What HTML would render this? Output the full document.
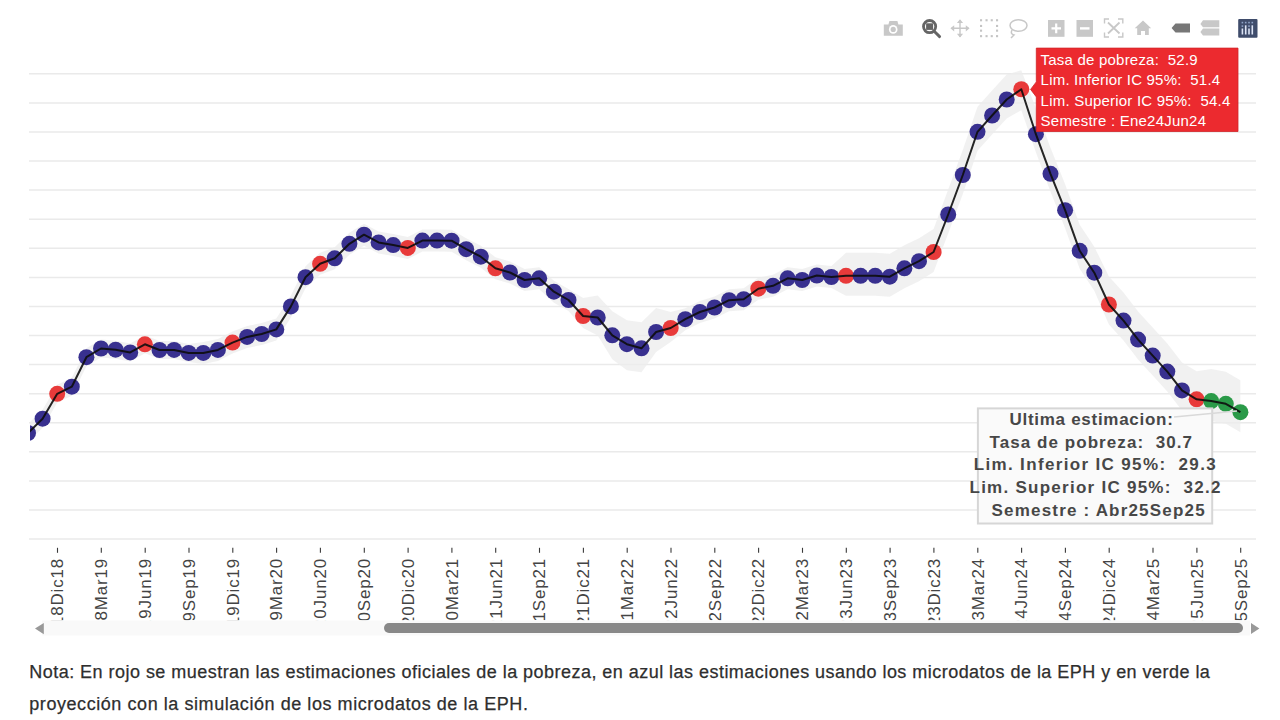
<!DOCTYPE html>
<html><head><meta charset="utf-8">
<style>
html,body{margin:0;padding:0;background:#fff;width:1280px;height:720px;overflow:hidden}
svg{position:absolute;left:0;top:0}
.note{position:absolute;left:29.3px;width:1250px;white-space:nowrap;font-family:"Liberation Sans",sans-serif;font-size:18px;line-height:32px;color:#2e2e2e;margin:0;-webkit-text-stroke:0.25px #2e2e2e}
</style></head><body>
<svg width="1280" height="720" viewBox="0 0 1280 720" font-family="Liberation Sans, sans-serif">
<defs>
<clipPath id="plot"><rect x="30" y="40" width="1226" height="501"/></clipPath>
<clipPath id="xlab"><rect x="0" y="540" width="1280" height="80.3"/></clipPath>
</defs>
<g stroke="#eaeaea" stroke-width="1.5">
<line x1="29" x2="1256" y1="73.8" y2="73.8"/>
<line x1="29" x2="1256" y1="102.9" y2="102.9"/>
<line x1="29" x2="1256" y1="132.0" y2="132.0"/>
<line x1="29" x2="1256" y1="161.0" y2="161.0"/>
<line x1="29" x2="1256" y1="190.1" y2="190.1"/>
<line x1="29" x2="1256" y1="219.2" y2="219.2"/>
<line x1="29" x2="1256" y1="248.3" y2="248.3"/>
<line x1="29" x2="1256" y1="277.4" y2="277.4"/>
<line x1="29" x2="1256" y1="306.4" y2="306.4"/>
<line x1="29" x2="1256" y1="335.5" y2="335.5"/>
<line x1="29" x2="1256" y1="364.6" y2="364.6"/>
<line x1="29" x2="1256" y1="393.7" y2="393.7"/>
<line x1="29" x2="1256" y1="422.8" y2="422.8"/>
<line x1="29" x2="1256" y1="451.8" y2="451.8"/>
<line x1="29" x2="1256" y1="480.9" y2="480.9"/>
<line x1="29" x2="1256" y1="510.0" y2="510.0"/>
<line x1="29" x2="1256" y1="539.1" y2="539.1"/>
</g>
<g clip-path="url(#plot)">
<path d="M28.0,424.0 L42.6,409.7 L57.2,384.8 L71.8,377.7 L86.4,348.2 L101.0,339.5 L115.6,340.7 L130.2,343.4 L144.9,335.3 L159.5,341.0 L174.1,340.9 L188.7,343.9 L203.3,341.9 L217.9,338.9 L232.5,331.6 L247.1,325.9 L261.7,323.0 L276.3,318.4 L290.9,295.4 L305.5,266.2 L320.1,252.8 L334.7,247.3 L349.4,232.8 L364.0,223.7 L378.6,231.4 L393.2,234.1 L407.8,236.9 L422.4,229.6 L437.0,229.6 L451.6,229.7 L466.2,238.2 L480.8,245.7 L495.4,257.3 L510.0,261.5 L524.6,269.0 L539.2,267.3 L553.9,280.7 L568.5,289.0 L583.1,298.0 L597.7,295.5 L612.3,311.3 L626.9,320.2 L641.5,322.3 L656.1,308.0 L670.7,312.0 L685.3,308.2 L699.9,301.0 L714.5,296.5 L729.1,289.2 L743.7,288.2 L758.3,277.7 L773.0,274.8 L787.6,267.3 L802.2,269.0 L816.8,264.5 L831.4,266.0 L846.0,252.8 L860.6,252.8 L875.2,252.8 L889.8,253.7 L904.4,245.3 L919.0,238.2 L933.6,229.0 L948.2,189.5 L962.8,150.0 L977.5,106.8 L992.1,90.5 L1006.7,74.5 L1021.3,70.2 L1035.9,108.2 L1050.5,147.8 L1065.1,184.2 L1079.7,224.8 L1094.3,246.7 L1108.9,276.5 L1123.5,292.6 L1138.1,311.6 L1152.7,327.6 L1167.3,343.6 L1182.0,362.4 L1196.6,371.3 L1211.2,369.1 L1225.8,371.8 L1240.4,380.2 L1240.4,432.2 L1225.8,423.8 L1211.2,421.1 L1196.6,419.3 L1182.0,410.4 L1167.3,391.6 L1152.7,375.6 L1138.1,359.6 L1123.5,340.6 L1108.9,324.5 L1094.3,290.7 L1079.7,268.8 L1065.1,228.2 L1050.5,191.8 L1035.9,152.2 L1021.3,110.2 L1006.7,118.5 L992.1,134.5 L977.5,150.8 L962.8,194.0 L948.2,233.5 L933.6,272.0 L919.0,281.2 L904.4,288.3 L889.8,296.7 L875.2,295.8 L860.6,295.8 L846.0,295.8 L831.4,288.0 L816.8,286.5 L802.2,291.0 L787.6,289.3 L773.0,296.8 L758.3,299.7 L743.7,310.2 L729.1,311.2 L714.5,318.5 L699.9,323.0 L685.3,330.2 L670.7,342.0 L656.1,352.0 L641.5,372.3 L626.9,370.2 L612.3,359.3 L597.7,335.5 L583.1,328.0 L568.5,311.0 L553.9,302.7 L539.2,289.3 L524.6,291.0 L510.0,283.5 L495.4,279.3 L480.8,267.7 L466.2,260.2 L451.6,251.7 L437.0,251.6 L422.4,251.6 L407.8,258.9 L393.2,256.1 L378.6,253.4 L364.0,245.7 L349.4,254.8 L334.7,269.3 L320.1,274.8 L305.5,288.2 L290.9,317.4 L276.3,340.4 L261.7,345.0 L247.1,347.9 L232.5,353.6 L217.9,360.9 L203.3,363.9 L188.7,361.9 L174.1,358.9 L159.5,359.0 L144.9,353.3 L130.2,361.4 L115.6,358.7 L101.0,357.5 L86.4,366.2 L71.8,395.7 L57.2,402.8 L42.6,427.7 L28.0,442.0 Z" fill="#ececec" fill-opacity="0.75" stroke="none"/>
<circle cx="28.0" cy="433.0" r="8.0" fill="#38308f"/>
<circle cx="42.6" cy="418.7" r="8.0" fill="#38308f"/>
<circle cx="57.2" cy="393.8" r="8.0" fill="#e83a3a"/>
<circle cx="71.8" cy="386.7" r="8.0" fill="#38308f"/>
<circle cx="86.4" cy="357.2" r="8.0" fill="#38308f"/>
<circle cx="101.0" cy="348.5" r="8.0" fill="#38308f"/>
<circle cx="115.6" cy="349.7" r="8.0" fill="#38308f"/>
<circle cx="130.2" cy="352.4" r="8.0" fill="#38308f"/>
<circle cx="144.9" cy="344.3" r="8.0" fill="#e83a3a"/>
<circle cx="159.5" cy="350.0" r="8.0" fill="#38308f"/>
<circle cx="174.1" cy="349.9" r="8.0" fill="#38308f"/>
<circle cx="188.7" cy="352.9" r="8.0" fill="#38308f"/>
<circle cx="203.3" cy="352.9" r="8.0" fill="#38308f"/>
<circle cx="217.9" cy="349.9" r="8.0" fill="#38308f"/>
<circle cx="232.5" cy="342.6" r="8.0" fill="#e83a3a"/>
<circle cx="247.1" cy="336.9" r="8.0" fill="#38308f"/>
<circle cx="261.7" cy="334.0" r="8.0" fill="#38308f"/>
<circle cx="276.3" cy="329.4" r="8.0" fill="#38308f"/>
<circle cx="290.9" cy="306.4" r="8.0" fill="#38308f"/>
<circle cx="305.5" cy="277.2" r="8.0" fill="#38308f"/>
<circle cx="320.1" cy="263.8" r="8.0" fill="#e83a3a"/>
<circle cx="334.7" cy="258.3" r="8.0" fill="#38308f"/>
<circle cx="349.4" cy="243.8" r="8.0" fill="#38308f"/>
<circle cx="364.0" cy="234.7" r="8.0" fill="#38308f"/>
<circle cx="378.6" cy="242.4" r="8.0" fill="#38308f"/>
<circle cx="393.2" cy="245.1" r="8.0" fill="#38308f"/>
<circle cx="407.8" cy="247.9" r="8.0" fill="#e83a3a"/>
<circle cx="422.4" cy="240.6" r="8.0" fill="#38308f"/>
<circle cx="437.0" cy="240.6" r="8.0" fill="#38308f"/>
<circle cx="451.6" cy="240.7" r="8.0" fill="#38308f"/>
<circle cx="466.2" cy="249.2" r="8.0" fill="#38308f"/>
<circle cx="480.8" cy="256.7" r="8.0" fill="#38308f"/>
<circle cx="495.4" cy="268.3" r="8.0" fill="#e83a3a"/>
<circle cx="510.0" cy="272.5" r="8.0" fill="#38308f"/>
<circle cx="524.6" cy="280.0" r="8.0" fill="#38308f"/>
<circle cx="539.2" cy="278.3" r="8.0" fill="#38308f"/>
<circle cx="553.9" cy="291.7" r="8.0" fill="#38308f"/>
<circle cx="568.5" cy="300.0" r="8.0" fill="#38308f"/>
<circle cx="583.1" cy="316.0" r="8.0" fill="#e83a3a"/>
<circle cx="597.7" cy="317.5" r="8.0" fill="#38308f"/>
<circle cx="612.3" cy="335.3" r="8.0" fill="#38308f"/>
<circle cx="626.9" cy="344.2" r="8.0" fill="#38308f"/>
<circle cx="641.5" cy="348.3" r="8.0" fill="#38308f"/>
<circle cx="656.1" cy="332.0" r="8.0" fill="#38308f"/>
<circle cx="670.7" cy="328.0" r="8.0" fill="#e83a3a"/>
<circle cx="685.3" cy="319.2" r="8.0" fill="#38308f"/>
<circle cx="699.9" cy="312.0" r="8.0" fill="#38308f"/>
<circle cx="714.5" cy="307.5" r="8.0" fill="#38308f"/>
<circle cx="729.1" cy="300.2" r="8.0" fill="#38308f"/>
<circle cx="743.7" cy="299.2" r="8.0" fill="#38308f"/>
<circle cx="758.3" cy="288.7" r="8.0" fill="#e83a3a"/>
<circle cx="773.0" cy="285.8" r="8.0" fill="#38308f"/>
<circle cx="787.6" cy="278.3" r="8.0" fill="#38308f"/>
<circle cx="802.2" cy="280.0" r="8.0" fill="#38308f"/>
<circle cx="816.8" cy="275.5" r="8.0" fill="#38308f"/>
<circle cx="831.4" cy="277.0" r="8.0" fill="#38308f"/>
<circle cx="846.0" cy="275.8" r="8.0" fill="#e83a3a"/>
<circle cx="860.6" cy="275.8" r="8.0" fill="#38308f"/>
<circle cx="875.2" cy="275.8" r="8.0" fill="#38308f"/>
<circle cx="889.8" cy="276.7" r="8.0" fill="#38308f"/>
<circle cx="904.4" cy="268.3" r="8.0" fill="#38308f"/>
<circle cx="919.0" cy="261.2" r="8.0" fill="#38308f"/>
<circle cx="933.6" cy="252.0" r="8.0" fill="#e83a3a"/>
<circle cx="948.2" cy="214.5" r="8.0" fill="#38308f"/>
<circle cx="962.8" cy="175.0" r="8.0" fill="#38308f"/>
<circle cx="977.5" cy="131.8" r="8.0" fill="#38308f"/>
<circle cx="992.1" cy="115.5" r="8.0" fill="#38308f"/>
<circle cx="1006.7" cy="99.5" r="8.0" fill="#38308f"/>
<circle cx="1021.3" cy="89.2" r="8.0" fill="#e83a3a"/>
<circle cx="1035.9" cy="134.2" r="8.0" fill="#38308f"/>
<circle cx="1050.5" cy="173.8" r="8.0" fill="#38308f"/>
<circle cx="1065.1" cy="210.2" r="8.0" fill="#38308f"/>
<circle cx="1079.7" cy="250.8" r="8.0" fill="#38308f"/>
<circle cx="1094.3" cy="272.7" r="8.0" fill="#38308f"/>
<circle cx="1108.9" cy="304.5" r="8.0" fill="#e83a3a"/>
<circle cx="1123.5" cy="320.6" r="8.0" fill="#38308f"/>
<circle cx="1138.1" cy="339.6" r="8.0" fill="#38308f"/>
<circle cx="1152.7" cy="355.6" r="8.0" fill="#38308f"/>
<circle cx="1167.3" cy="371.6" r="8.0" fill="#38308f"/>
<circle cx="1182.0" cy="390.4" r="8.0" fill="#38308f"/>
<circle cx="1196.6" cy="399.3" r="8.0" fill="#e83a3a"/>
<circle cx="1211.2" cy="401.1" r="8.0" fill="#2a9a48"/>
<circle cx="1225.8" cy="403.8" r="8.0" fill="#2a9a48"/>
<circle cx="1240.4" cy="412.2" r="8.0" fill="#2a9a48"/>
<path d="M28.0,433.0 L42.6,418.7 L57.2,393.8 L71.8,386.7 L86.4,357.2 L101.0,348.5 L115.6,349.7 L130.2,352.4 L144.9,344.3 L159.5,350.0 L174.1,349.9 L188.7,352.9 L203.3,352.9 L217.9,349.9 L232.5,342.6 L247.1,336.9 L261.7,334.0 L276.3,329.4 L290.9,306.4 L305.5,277.2 L320.1,263.8 L334.7,258.3 L349.4,243.8 L364.0,234.7 L378.6,242.4 L393.2,245.1 L407.8,247.9 L422.4,240.6 L437.0,240.6 L451.6,240.7 L466.2,249.2 L480.8,256.7 L495.4,268.3 L510.0,272.5 L524.6,280.0 L539.2,278.3 L553.9,291.7 L568.5,300.0 L583.1,316.0 L597.7,317.5 L612.3,335.3 L626.9,344.2 L641.5,348.3 L656.1,332.0 L670.7,328.0 L685.3,319.2 L699.9,312.0 L714.5,307.5 L729.1,300.2 L743.7,299.2 L758.3,288.7 L773.0,285.8 L787.6,278.3 L802.2,280.0 L816.8,275.5 L831.4,277.0 L846.0,275.8 L860.6,275.8 L875.2,275.8 L889.8,276.7 L904.4,268.3 L919.0,261.2 L933.6,252.0 L948.2,214.5 L962.8,175.0 L977.5,131.8 L992.1,115.5 L1006.7,99.5 L1021.3,89.2 L1035.9,134.2 L1050.5,173.8 L1065.1,210.2 L1079.7,250.8 L1094.3,272.7 L1108.9,304.5 L1123.5,320.6 L1138.1,339.6 L1152.7,355.6 L1167.3,371.6 L1182.0,390.4 L1196.6,399.3 L1211.2,401.1 L1225.8,403.8 L1240.4,412.2" fill="none" stroke="#0d0d0d" stroke-opacity="0.9" stroke-width="2.0" stroke-linejoin="round"/>
</g>
<g stroke="#3a3a3a" stroke-width="1.1">
<line x1="57.5" x2="57.5" y1="547.8" y2="552.8"/>
<line x1="101.3" x2="101.3" y1="547.8" y2="552.8"/>
<line x1="145.2" x2="145.2" y1="547.8" y2="552.8"/>
<line x1="189.0" x2="189.0" y1="547.8" y2="552.8"/>
<line x1="232.8" x2="232.8" y1="547.8" y2="552.8"/>
<line x1="276.6" x2="276.6" y1="547.8" y2="552.8"/>
<line x1="320.4" x2="320.4" y1="547.8" y2="552.8"/>
<line x1="364.3" x2="364.3" y1="547.8" y2="552.8"/>
<line x1="408.1" x2="408.1" y1="547.8" y2="552.8"/>
<line x1="451.9" x2="451.9" y1="547.8" y2="552.8"/>
<line x1="495.7" x2="495.7" y1="547.8" y2="552.8"/>
<line x1="539.5" x2="539.5" y1="547.8" y2="552.8"/>
<line x1="583.4" x2="583.4" y1="547.8" y2="552.8"/>
<line x1="627.2" x2="627.2" y1="547.8" y2="552.8"/>
<line x1="671.0" x2="671.0" y1="547.8" y2="552.8"/>
<line x1="714.8" x2="714.8" y1="547.8" y2="552.8"/>
<line x1="758.6" x2="758.6" y1="547.8" y2="552.8"/>
<line x1="802.5" x2="802.5" y1="547.8" y2="552.8"/>
<line x1="846.3" x2="846.3" y1="547.8" y2="552.8"/>
<line x1="890.1" x2="890.1" y1="547.8" y2="552.8"/>
<line x1="933.9" x2="933.9" y1="547.8" y2="552.8"/>
<line x1="977.8" x2="977.8" y1="547.8" y2="552.8"/>
<line x1="1021.6" x2="1021.6" y1="547.8" y2="552.8"/>
<line x1="1065.4" x2="1065.4" y1="547.8" y2="552.8"/>
<line x1="1109.2" x2="1109.2" y1="547.8" y2="552.8"/>
<line x1="1153.0" x2="1153.0" y1="547.8" y2="552.8"/>
<line x1="1196.9" x2="1196.9" y1="547.8" y2="552.8"/>
<line x1="1240.7" x2="1240.7" y1="547.8" y2="552.8"/>
</g>
<g clip-path="url(#xlab)" font-size="16" fill="#444" text-anchor="end" letter-spacing="0.8">
<text transform="translate(63.3,558.0) rotate(-90) scale(1.06,1)">Jul18Dic18</text>
<text transform="translate(107.1,558.0) rotate(-90) scale(1.06,1)">Oct18Mar19</text>
<text transform="translate(151.0,558.0) rotate(-90) scale(1.06,1)">Ene19Jun19</text>
<text transform="translate(194.8,558.0) rotate(-90) scale(1.06,1)">Abr19Sep19</text>
<text transform="translate(238.6,558.0) rotate(-90) scale(1.06,1)">Jul19Dic19</text>
<text transform="translate(282.4,558.0) rotate(-90) scale(1.06,1)">Oct19Mar20</text>
<text transform="translate(326.2,558.0) rotate(-90) scale(1.06,1)">Ene20Jun20</text>
<text transform="translate(370.1,558.0) rotate(-90) scale(1.06,1)">Abr20Sep20</text>
<text transform="translate(413.9,558.0) rotate(-90) scale(1.06,1)">Jul20Dic20</text>
<text transform="translate(457.7,558.0) rotate(-90) scale(1.06,1)">Oct20Mar21</text>
<text transform="translate(501.5,558.0) rotate(-90) scale(1.06,1)">Ene21Jun21</text>
<text transform="translate(545.3,558.0) rotate(-90) scale(1.06,1)">Abr21Sep21</text>
<text transform="translate(589.2,558.0) rotate(-90) scale(1.06,1)">Jul21Dic21</text>
<text transform="translate(633.0,558.0) rotate(-90) scale(1.06,1)">Oct21Mar22</text>
<text transform="translate(676.8,558.0) rotate(-90) scale(1.06,1)">Ene22Jun22</text>
<text transform="translate(720.6,558.0) rotate(-90) scale(1.06,1)">Abr22Sep22</text>
<text transform="translate(764.4,558.0) rotate(-90) scale(1.06,1)">Jul22Dic22</text>
<text transform="translate(808.3,558.0) rotate(-90) scale(1.06,1)">Oct22Mar23</text>
<text transform="translate(852.1,558.0) rotate(-90) scale(1.06,1)">Ene23Jun23</text>
<text transform="translate(895.9,558.0) rotate(-90) scale(1.06,1)">Abr23Sep23</text>
<text transform="translate(939.7,558.0) rotate(-90) scale(1.06,1)">Jul23Dic23</text>
<text transform="translate(983.6,558.0) rotate(-90) scale(1.06,1)">Oct23Mar24</text>
<text transform="translate(1027.4,558.0) rotate(-90) scale(1.06,1)">Ene24Jun24</text>
<text transform="translate(1071.2,558.0) rotate(-90) scale(1.06,1)">Abr24Sep24</text>
<text transform="translate(1115.0,558.0) rotate(-90) scale(1.06,1)">Jul24Dic24</text>
<text transform="translate(1158.8,558.0) rotate(-90) scale(1.06,1)">Oct24Mar25</text>
<text transform="translate(1202.7,558.0) rotate(-90) scale(1.06,1)">Ene25Jun25</text>
<text transform="translate(1246.5,558.0) rotate(-90) scale(1.06,1)">Abr25Sep25</text>
</g>
<!-- rangeslider -->
<rect x="42" y="620.5" width="1208" height="15" fill="#f9f9f9"/>
<path d="M35,628.5 L43.8,623 L43.8,634.2 Z" fill="#999"/>
<path d="M1259.4,628.5 L1251,623 L1251,634 Z" fill="#999"/>
<rect x="384" y="623" width="859" height="10" rx="5" fill="#888"/>
<!-- tooltip -->
<path d="M1036.3,48.1 H1238 V131.5 H1036.3 V96.9 L1030.6,89.4 L1036.3,81.9 Z" fill="#ec2a2f" stroke="#d02428" stroke-width="0.8"/>
<g fill="#fff" font-size="15">
<text x="1040.6" y="64.7" textLength="157" lengthAdjust="spacing" xml:space="preserve">Tasa de pobreza:  52.9</text>
<text x="1040.6" y="84.8" textLength="179.5" lengthAdjust="spacing" xml:space="preserve">Lim. Inferior IC 95%:  51.4</text>
<text x="1040.6" y="105.6" textLength="189.7" lengthAdjust="spacing" xml:space="preserve">Lim. Superior IC 95%:  54.4</text>
<text x="1040.6" y="125.6" textLength="165.4" lengthAdjust="spacing" xml:space="preserve">Semestre : Ene24Jun24</text>
</g>
<!-- annotation -->
<rect x="977.9" y="408.4" width="234.3" height="115.1" fill="#fafafa" fill-opacity="0.97" stroke="#d6d6d6" stroke-width="2"/>
<path d="M1174,417 L1237,411" stroke="#d9d9d9" stroke-width="1.5" fill="none"/>

<g fill="#474747" font-size="17" font-weight="bold">
<text x="1009.5" y="425" textLength="163.3" lengthAdjust="spacing" xml:space="preserve">Ultima estimacion:</text>
<text x="989.5" y="447.5" textLength="202.5" lengthAdjust="spacing" xml:space="preserve">Tasa de pobreza:  30.7</text>
<text x="973.7" y="470" textLength="242" lengthAdjust="spacing" xml:space="preserve">Lim. Inferior IC 95%:  29.3</text>
<text x="969.5" y="492.8" textLength="251" lengthAdjust="spacing" xml:space="preserve">Lim. Superior IC 95%:  32.2</text>
<text x="991.6" y="516" textLength="213" lengthAdjust="spacing" xml:space="preserve">Semestre : Abr25Sep25</text>
</g>
<!-- modebar -->
<g id="modebar">
<!-- camera -->
<g fill="#c8c8c8">
<path d="M883.8,24.4 H888.4 L889.4,21 H897.4 L898.4,24.4 H902.8 V35.8 H883.8 Z"/>
<circle cx="893.2" cy="29.4" r="4.3" fill="#fff"/>
<circle cx="893.2" cy="29.4" r="2.6" fill="#c8c8c8"/>
</g>
<!-- zoom -->
<g>
<circle cx="929.6" cy="26.6" r="6.1" fill="none" stroke="#656565" stroke-width="2.8"/>
<rect x="926.1" y="23.3" width="7" height="6.6" fill="#656565"/>
<path d="M934.2,31.3 L939.6,36.6" stroke="#656565" stroke-width="2.9" stroke-linecap="round"/>
</g>
<!-- pan -->
<g fill="#c8c8c8">
<path d="M951.5,27.6 H968.5 V29 H951.5 Z M959.3,20 H960.7 V37 H959.3 Z"/>
<path d="M950.4,28.3 L954.2,25.2 V31.4 Z M969.6,28.3 L965.8,25.2 V31.4 Z M960,19.3 L956.9,23 H963.1 Z M960,37.5 L956.9,33.8 H963.1 Z"/>
</g>
<!-- box select -->
<g fill="#c4c4c4">
<rect x="980.0" y="19.2" width="2.1" height="2.1"/><rect x="980.0" y="24.9" width="2.1" height="2.1"/><rect x="980.0" y="29.6" width="2.1" height="2.1"/><rect x="980.0" y="35.1" width="2.1" height="2.1"/><rect x="985.5" y="19.2" width="2.1" height="2.1"/><rect x="985.5" y="35.1" width="2.1" height="2.1"/><rect x="990.7" y="19.2" width="2.1" height="2.1"/><rect x="990.7" y="35.1" width="2.1" height="2.1"/><rect x="996.0" y="19.2" width="2.1" height="2.1"/><rect x="996.0" y="24.9" width="2.1" height="2.1"/><rect x="996.0" y="29.6" width="2.1" height="2.1"/><rect x="996.0" y="35.1" width="2.1" height="2.1"/>
</g>
<!-- lasso -->
<g fill="none" stroke="#c8c8c8" stroke-width="1.5">
<ellipse cx="1018.5" cy="25.5" rx="8.5" ry="5.8"/>
<path d="M1012,30 Q1010,34 1014,35 Q1012,37 1011,38"/>
</g>
<!-- zoom in -->
<rect x="1048" y="20" width="16.5" height="16.8" fill="#c8c8c8"/>
<path d="M1056.2,23.5 V33.3 M1051.5,28.4 H1061" stroke="#fff" stroke-width="2.2"/>
<!-- zoom out -->
<rect x="1076.5" y="20" width="16.5" height="16.8" fill="#c8c8c8"/>
<path d="M1080,28.4 H1089.5" stroke="#fff" stroke-width="2.4"/>
<!-- autoscale -->
<g stroke="#c8c8c8" stroke-width="1.4" fill="none">
<path d="M1104.5,23.5 V19 H1109 M1118,19 H1122.8 V23.5 M1122.8,32.5 V37 H1118 M1109,37 H1104.5 V32.5"/>
<path d="M1108,22.5 L1119.5,33.5 M1119.5,22.5 L1108,33.5" stroke-width="1.8"/>
</g>
<!-- home -->
<path d="M1143,20.4 L1134.7,28.3 H1137.2 V35 H1141 V31 H1145 V35 H1148.8 V28.3 H1151.2 Z" fill="#c8c8c8"/>
<!-- spike tag -->
<path d="M1171.6,28.1 L1175.5,23.6 H1190 V32.6 H1175.5 Z" fill="#777"/>
<!-- compare -->
<path d="M1200.4,24 L1203,20.2 H1219.3 V27.2 H1203 Z M1200.4,32 L1203,28.6 H1219.3 V35.6 H1203 Z" fill="#c8c8c8"/>
<!-- plotly logo -->
<rect x="1238.2" y="18.9" width="19.3" height="18.9" rx="1" fill="#3f4c6b"/>
<g fill="#dde4f5">
<rect x="1241.6" y="28.5" width="1.6" height="6"/>
<rect x="1244.9" y="25.3" width="1.6" height="9.2"/>
<rect x="1248.2" y="28.5" width="1.6" height="6"/>
<rect x="1251.5" y="25.3" width="1.6" height="9.2"/>
</g>
<g fill="#8fa3c8">
<rect x="1241.6" y="21.8" width="1.6" height="1.6"/><rect x="1244.9" y="21.8" width="1.6" height="1.6"/><rect x="1248.2" y="21.8" width="1.6" height="1.6"/><rect x="1251.5" y="21.8" width="1.6" height="1.6"/>
<rect x="1241.6" y="25.3" width="1.6" height="1.6"/><rect x="1248.2" y="25.3" width="1.6" height="1.6"/>
</g>

</g>
</svg>
<div class="note" style="top:656px;letter-spacing:0.467px">Nota: En rojo se muestran las estimaciones oficiales de la pobreza, en azul las estimaciones usando los microdatos de la EPH y en verde la</div>
<div class="note" style="top:688px;letter-spacing:0.56px">proyección con la simulación de los microdatos de la EPH.</div>
</body></html>
